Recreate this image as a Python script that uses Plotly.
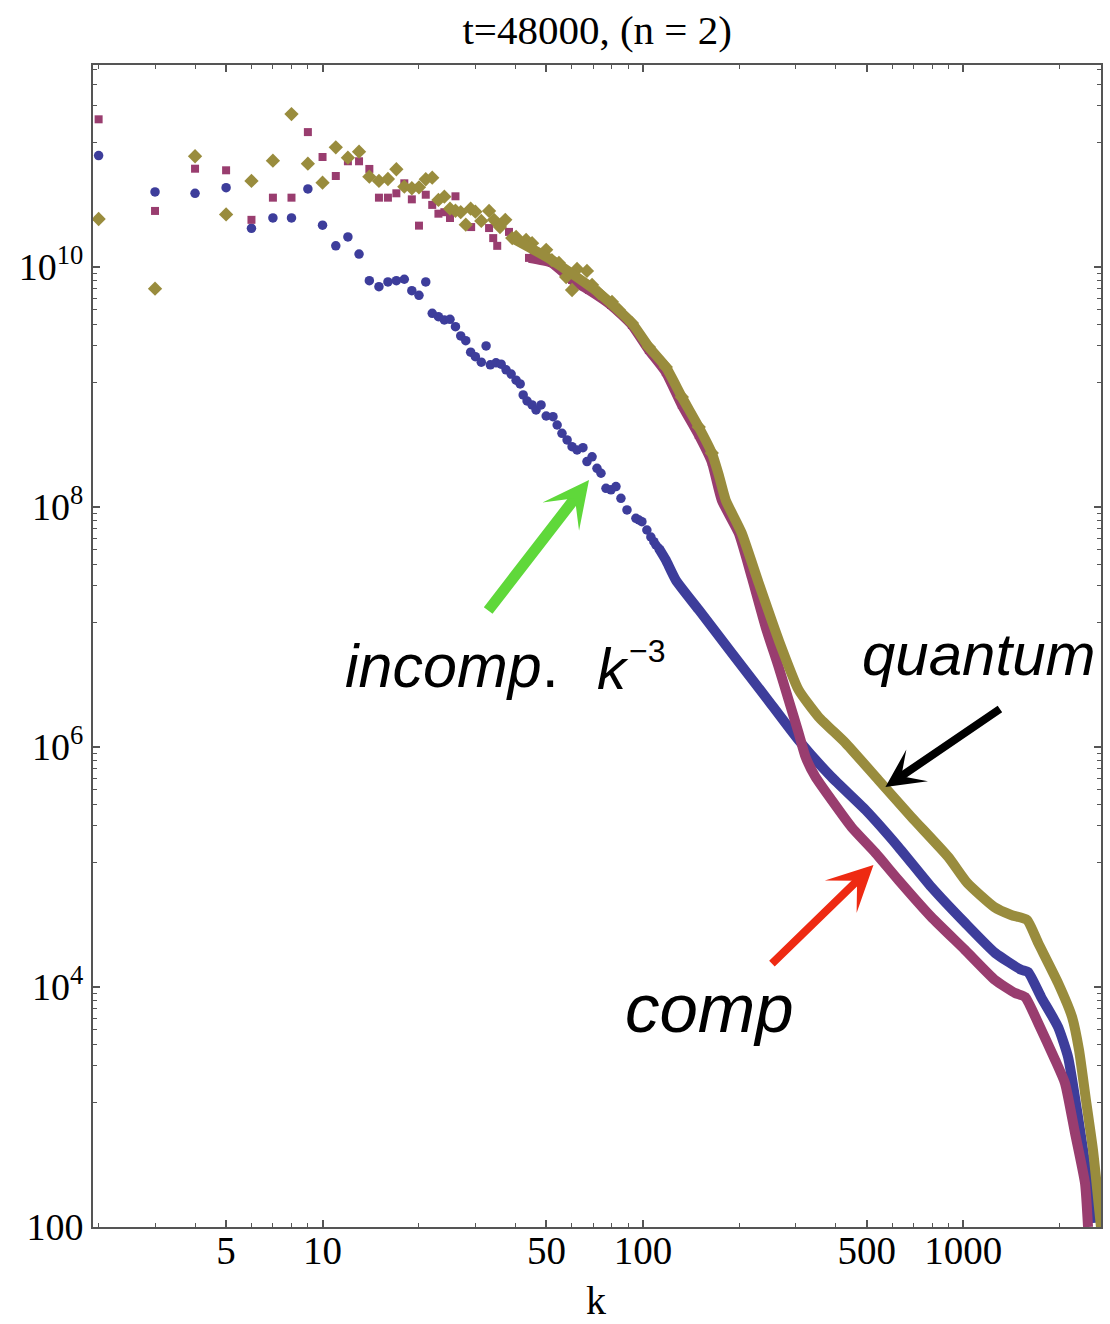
import plotly.graph_objects as go

# ---------------- data ----------------
# incompressible (blue, circles)
inc_k_pts = [2, 3, 4, 5, 6, 7, 8, 9, 10, 11, 12, 13, 14, 15, 16, 17, 18, 19, 20, 21,
             22, 23, 24, 25, 26, 27, 28, 29, 30,
             31.3, 32.4, 33.4, 34.8, 36.1, 37.4, 38.8, 40.2, 41.4, 42.3, 43.5, 45.1,
             46.4, 48.1, 49.9, 52.4, 54.0, 55.9, 58.0, 60.1, 62.3, 65.0, 66.9, 69.4,
             71.9, 74.0, 76.7, 79.5, 82.4, 85.4, 89.2, 95.1, 97.2, 99.3, 102.9, 105.9,
             108.2, 109.8, 112.1]
inc_E_pts = [8.47e10, 4.22e10, 4.11e10, 4.58e10, 2.10e10, 2.56e10, 2.56e10, 4.47e10,
             2.23e10, 1.50e10, 1.78e10, 1.28e10, 7.69e9, 6.85e9, 7.50e9, 7.69e9, 7.90e9,
             6.35e9, 5.81e9, 7.50e9, 4.11e9, 3.85e9, 3.62e9, 3.66e9, 3.18e9, 2.66e9,
             2.43e9, 1.95e9, 1.79e9,
             1.61e9, 2.20e9, 1.53e9, 1.59e9, 1.55e9, 1.39e9, 1.28e9, 1.14e9, 1.06e9,
             8.58e8, 7.64e8, 7.08e8, 6.43e8, 7.08e8, 5.73e8, 5.65e8, 4.82e8, 4.11e8,
             3.62e8, 3.18e8, 2.99e8, 3.12e8, 2.39e8, 2.62e8, 2.10e8, 1.91e8, 1.43e8,
             1.39e8, 1.48e8, 1.18e8, 9.44e7, 8.05e7, 7.79e7, 7.54e7, 6.43e7, 5.62e7,
             5.14e7, 4.82e7, 4.53e7]
inc_k_line = [112.1, 117.9, 126.7, 149.4, 189.4, 241.6, 306.2, 388.0, 495.2, 627.3,
              795, 1014, 1258, 1516, 1594, 1750, 1977, 2124, 2282, 2452, 2541]
inc_E_line = [4.53e7, 3.62e7, 2.46e7, 1.39e7, 6.07e6, 2.61e6, 1.14e6, 5.62e5, 2.99e5,
              1.47e5, 6.81e4, 3.41e4, 1.92e4, 1.39e4, 1.33e4, 8.25e3, 4.64e3, 2.61e3,
              826, 233, 108]

# compressible (purple, squares)
comp_k_pts = [2, 3, 4, 5, 6, 7, 8, 9, 10, 11, 12, 13, 14, 15, 16, 17, 18, 19, 20, 21,
              22, 23, 24, 25, 26,
              29.1, 33.1, 34.1, 35.1, 38.2, 44.1, 52.0, 60.1, 67.9, 79.5, 92.4, 104.4,
              117.9, 132.3, 149.4, 164.1]
comp_E_pts = [1.70e11, 2.93e10, 6.59e10, 6.39e10, 2.47e10, 3.78e10, 3.78e10, 1.33e11,
              8.25e10, 5.73e10, 7.60e10, 7.60e10, 6.56e10, 3.78e10, 3.78e10, 4.11e10,
              4.98e10, 3.66e10, 2.21e10, 4.00e10, 3.29e10, 2.78e10, 2.86e10, 2.56e10,
              3.88e10,
              2.15e10, 2.11e10, 1.74e10, 1.50e10, 1.96e10, 1.19e10, 1.08e10, 7.79e9,
              6.43e9, 4.82e9, 3.29e9, 2.03e9, 1.33e9, 7.08e8, 3.98e8, 2.37e8]
comp_k_line = [44.1, 52.0, 60.1, 67.9, 79.5, 92.4, 104.4, 117.9, 132.3, 149.4, 164.1,
               176.3, 199.1, 218.6, 241.6, 265.3, 285.0, 306.2, 322.0, 345.8, 388.0,
               447.8, 532.0, 627.3, 795, 1014, 1258, 1452, 1560, 1713, 1935, 2078,
               2233, 2399, 2452]
comp_E_line = [1.19e10, 1.08e10, 7.79e9, 6.43e9, 4.82e9, 3.29e9, 2.03e9, 1.33e9,
               7.08e8, 3.98e8, 2.37e8, 1.14e8, 6.07e7, 2.61e7, 1.0e7, 4.64e6, 2.47e6,
               1.31e6, 8.25e5, 5.62e5, 3.62e5, 2.15e5, 1.31e5, 7.79e4, 3.83e4, 2.03e4,
               1.14e4, 8.91e3, 8.25e3, 5.01e3, 2.47e3, 1.58e3, 607, 233, 100]

# quantum (olive, diamonds)
q_k_pts = [2, 3, 4, 5, 6, 7, 8, 9, 10, 11, 12, 13, 14, 15, 16, 17, 18, 19, 20, 21,
           22, 23, 24, 25, 26, 27, 28, 29, 30,
           31.3, 33.1, 34.3, 35.8, 37.2, 39.1, 40.2, 43.2, 45.1, 49.9, 52.0, 54.7,
           57.6, 60.1, 62.3, 66.9, 69.4, 72.9, 80.1, 84.2, 92.4, 104.4, 117.9, 132.3,
           149.4, 164.1]
q_E_pts = [2.51e10, 6.59e9, 8.37e10, 2.74e10, 5.21e10, 7.69e10, 1.88e11, 7.26e10,
           5.04e10, 9.94e10, 8.14e10, 9.14e10, 5.65e10, 5.21e10, 5.41e10, 6.52e10,
           4.67e10, 4.53e10, 4.61e10, 5.38e10, 5.55e10, 3.62e10, 3.85e10, 3.06e10,
           2.94e10, 2.86e10, 2.25e10, 3.06e10, 2.89e10,
           2.42e10, 2.93e10, 2.47e10, 2.15e10, 2.47e10, 1.74e10, 1.78e10, 1.68e10,
           1.58e10, 1.39e10, 1.14e10, 1.08e10, 8.25e9, 6.43e9, 9.62e9, 9.26e9, 7.08e9,
           6.07e9, 5.11e9, 4.38e9, 3.41e9, 2.15e9, 1.47e9, 8.25e8, 4.64e8, 2.82e8]
q_k_line = [39.1, 52.0, 72.9, 92.4, 104.4, 117.9, 132.3, 149.4, 164.1, 172.5, 181.4,
            203.4, 229.8, 265.3, 306.2, 353.5, 429.0, 543.5, 688.7, 898.1, 1029, 1249,
            1411, 1582, 1713, 1977, 2186, 2298, 2416, 2541, 2691]
q_E_line = [1.74e10, 1.14e10, 6.07e9, 3.41e9, 2.15e9, 1.47e9, 8.25e8, 4.64e8, 2.82e8,
            1.85e8, 1.14e8, 6.07e7, 2.33e7, 7.79e6, 2.99e6, 1.78e6, 1.08e6, 5.31e5,
            2.61e5, 1.21e5, 7.36e4, 4.64e4, 3.98e4, 3.62e4, 2.33e4, 1.08e4, 5.62e3,
            2.99e3, 1.14e3, 438, 100]

x_tick_vals = [5, 10, 50, 100, 500, 1000]
x_tick_text = ["5", "10", "50", "100", "500", "1000"]
x_minor_vals = [2, 3, 4, 6, 7, 8, 9, 20, 30, 40, 60, 70, 80, 90,
                200, 300, 400, 600, 700, 800, 900, 2000]
y_tick_vals = [1e2, 1e4, 1e6, 1e8, 1e10]
y_tick_text = ["100", "10<sup>4</sup>", "10<sup>6</sup>", "10<sup>8</sup>", "10<sup>10</sup>"]
y_minor_vals = [m * 1.1 * 10 ** e for e in (3, 5, 7, 9, 11) for m in range(1, 9)]

C_INC = "#3d3d9b"
C_COMP = "#993d6f"
C_Q = "#998c3d"

# ---------------- figure ----------------
W, H = 1110, 1324
L, R, T, B = 93, 7, 65, 97
PW, PH = W - L - R, H - T - B


def px(x):
    return (x - L) / PW


def py(y):
    return (H - B - y) / PH


LW = 10
fig = go.Figure()
fig.add_trace(go.Scatter(x=inc_k_pts, y=inc_E_pts, mode="markers",
                         marker=dict(symbol="circle", size=9.5, color=C_INC),
                         showlegend=False))
fig.add_trace(go.Scatter(x=inc_k_line, y=inc_E_line, mode="lines",
                         line=dict(color=C_INC, width=LW, shape="spline", smoothing=0.5),
                         showlegend=False))
fig.add_trace(go.Scatter(x=comp_k_pts, y=comp_E_pts, mode="markers",
                         marker=dict(symbol="square", size=8, color=C_COMP),
                         showlegend=False))
fig.add_trace(go.Scatter(x=comp_k_line, y=comp_E_line, mode="lines",
                         line=dict(color=C_COMP, width=LW, shape="spline", smoothing=0.5),
                         showlegend=False))
fig.add_trace(go.Scatter(x=q_k_pts, y=q_E_pts, mode="markers",
                         marker=dict(symbol="diamond", size=11, color=C_Q),
                         showlegend=False))
fig.add_trace(go.Scatter(x=q_k_line, y=q_E_line, mode="lines",
                         line=dict(color=C_Q, width=LW, shape="spline", smoothing=0.5),
                         showlegend=False))

serif = "Liberation Serif, Times New Roman, serif"
sans = "Liberation Sans, Arial, Helvetica, sans-serif"
axcol = "#555555"

fig.update_layout(
    width=W, height=H,
    margin=dict(l=L, r=R, t=T, b=B, pad=0),
    paper_bgcolor="white", plot_bgcolor="white",
    title=dict(text="t=48000, (n = 2)", x=0.538, xanchor="center",
               yref="container", y=1 - 30 / H, yanchor="middle",
               font=dict(family=serif, size=41, color="black")),
    xaxis=dict(type="log", range=[0.2835, 3.430], showgrid=False, zeroline=False,
               showline=True, linecolor=axcol, linewidth=2, mirror="allticks",
               ticks="inside", ticklen=7, tickwidth=1.5, tickcolor=axcol,
               tickmode="array", tickvals=x_tick_vals, ticktext=x_tick_text,
               ticklabelstandoff=-12,
               tickfont=dict(family=serif, size=39, color="black"),
               minor=dict(tickmode="array", tickvals=x_minor_vals, ticks="inside",
                          ticklen=4, tickwidth=1.2, tickcolor=axcol, showgrid=False)),
    yaxis=dict(type="log", range=[2, 11.683], showgrid=False, zeroline=False,
               showline=True, linecolor=axcol, linewidth=2, mirror="allticks",
               ticks="inside", ticklen=7, tickwidth=1.5, tickcolor=axcol,
               tickmode="array", tickvals=y_tick_vals, ticktext=y_tick_text,
               tickfont=dict(family=serif, size=38, color="black"),
               minor=dict(tickmode="array", tickvals=y_minor_vals, ticks="inside",
                          ticklen=4, tickwidth=1.2, tickcolor=axcol, showgrid=False)),
)

ann = []
# axis label
ann.append(dict(text="k", xref="paper", yref="paper", x=px(597), y=py(1300),
                showarrow=False, xanchor="center", yanchor="middle",
                font=dict(family=serif, size=40, color="black")))
# text labels
ann.append(dict(text="<i>incomp</i>.", xref="paper", yref="paper", x=px(343), y=py(666),
                showarrow=False, xanchor="left", yanchor="middle",
                font=dict(family=sans, size=61, color="black")))
ann.append(dict(text="<i>k</i>", xref="paper", yref="paper", x=px(596), y=py(668),
                showarrow=False, xanchor="left", yanchor="middle",
                font=dict(family=sans, size=58, color="black")))
ann.append(dict(text="\u22123", xref="paper", yref="paper", x=px(628), y=py(651),
                showarrow=False, xanchor="left", yanchor="middle",
                font=dict(family=sans, size=32, color="black")))
ann.append(dict(text="<i>quantum</i>", xref="paper", yref="paper", x=px(862), y=py(654),
                showarrow=False, xanchor="left", yanchor="middle",
                font=dict(family=sans, size=60, color="black")))
ann.append(dict(text="<i>comp</i>", xref="paper", yref="paper", x=px(624), y=py(1008),
                showarrow=False, xanchor="left", yanchor="middle",
                font=dict(family=sans, size=69, color="black")))
# arrows (tip at x,y ; tail offset ax, ay in pixels)
ann.append(dict(text="", xref="paper", yref="paper", x=px(590), y=py(480),
                ax=488 - 590, ay=612 - 480, showarrow=True, arrowhead=3,
                arrowwidth=11, arrowsize=0.7, arrowcolor="#5fd83a", standoff=0))
ann.append(dict(text="", xref="paper", yref="paper", x=px(887), y=py(787),
                ax=1003 - 887, ay=708 - 787, showarrow=True, arrowhead=3,
                arrowwidth=8, arrowsize=0.8, arrowcolor="black", standoff=0))
ann.append(dict(text="", xref="paper", yref="paper", x=px(875), y=py(865),
                ax=772 - 875, ay=965 - 865, showarrow=True, arrowhead=3,
                arrowwidth=8, arrowsize=0.95, arrowcolor="#ee2a12", standoff=0))
fig.update_layout(annotations=ann)

fig.write_html("out.html")
